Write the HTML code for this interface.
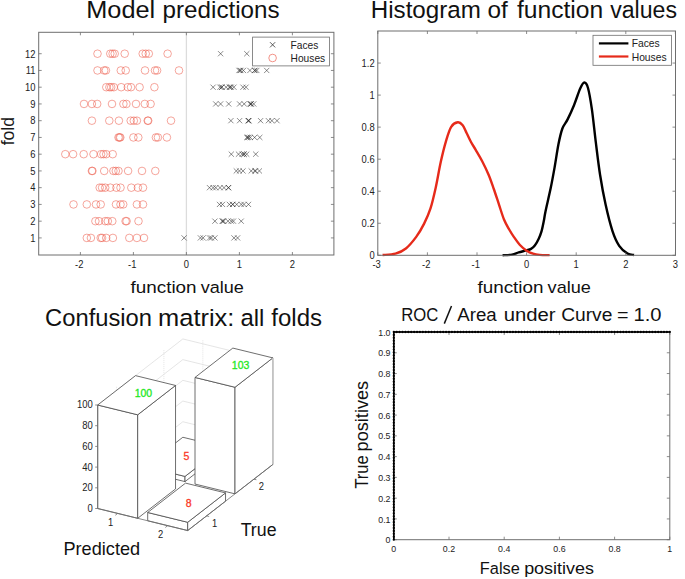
<!DOCTYPE html>
<html><head><meta charset="utf-8"><style>
html,body{margin:0;padding:0;background:#fff;}
svg{display:block;}
text{font-family:"Liberation Sans", sans-serif;fill:#222;}
</style></head><body>
<svg width="685" height="579" viewBox="0 0 685 579">
<rect width="685" height="579" fill="#fff"/>
<line x1="186.4" y1="32.3" x2="186.4" y2="255" stroke="#dcdcdc" stroke-width="1.3"/>
<g fill="none" stroke="#ec5a48" stroke-width="0.9" stroke-opacity="0.6">
<circle cx="97.5" cy="53.71" r="3.8"/>
<circle cx="110.3" cy="53.71" r="3.8"/>
<circle cx="112.6" cy="53.71" r="3.8"/>
<circle cx="114.7" cy="53.71" r="3.8"/>
<circle cx="124.7" cy="53.71" r="3.8"/>
<circle cx="142.7" cy="53.71" r="3.8"/>
<circle cx="145.7" cy="53.71" r="3.8"/>
<circle cx="148.8" cy="53.71" r="3.8"/>
<circle cx="167.6" cy="53.71" r="3.8"/>
<circle cx="97.5" cy="70.45" r="3.8"/>
<circle cx="104.2" cy="70.45" r="3.8"/>
<circle cx="105.9" cy="70.45" r="3.8"/>
<circle cx="120.8" cy="70.45" r="3.8"/>
<circle cx="125.7" cy="70.45" r="3.8"/>
<circle cx="145" cy="70.45" r="3.8"/>
<circle cx="155" cy="70.45" r="3.8"/>
<circle cx="157.1" cy="70.45" r="3.8"/>
<circle cx="179" cy="70.45" r="3.8"/>
<circle cx="106.3" cy="87.2" r="3.8"/>
<circle cx="109.4" cy="87.2" r="3.8"/>
<circle cx="111.2" cy="87.2" r="3.8"/>
<circle cx="113.8" cy="87.2" r="3.8"/>
<circle cx="121.2" cy="87.2" r="3.8"/>
<circle cx="127.8" cy="87.2" r="3.8"/>
<circle cx="131" cy="87.2" r="3.8"/>
<circle cx="139.6" cy="87.2" r="3.8"/>
<circle cx="154.4" cy="87.2" r="3.8"/>
<circle cx="84" cy="103.94" r="3.8"/>
<circle cx="91.9" cy="103.94" r="3.8"/>
<circle cx="97.2" cy="103.94" r="3.8"/>
<circle cx="112" cy="103.94" r="3.8"/>
<circle cx="123.4" cy="103.94" r="3.8"/>
<circle cx="126.4" cy="103.94" r="3.8"/>
<circle cx="136" cy="103.94" r="3.8"/>
<circle cx="144.8" cy="103.94" r="3.8"/>
<circle cx="150.6" cy="103.94" r="3.8"/>
<circle cx="91.9" cy="120.69" r="3.8"/>
<circle cx="109.3" cy="120.69" r="3.8"/>
<circle cx="118.9" cy="120.69" r="3.8"/>
<circle cx="130.7" cy="120.69" r="3.8"/>
<circle cx="133.8" cy="120.69" r="3.8"/>
<circle cx="136.9" cy="120.69" r="3.8"/>
<circle cx="147.7" cy="120.69" r="3.8"/>
<circle cx="148.2" cy="120.69" r="3.8"/>
<circle cx="171" cy="120.69" r="3.8"/>
<circle cx="118.5" cy="137.44" r="3.8"/>
<circle cx="119.5" cy="137.44" r="3.8"/>
<circle cx="120.3" cy="137.44" r="3.8"/>
<circle cx="133.4" cy="137.44" r="3.8"/>
<circle cx="138.3" cy="137.44" r="3.8"/>
<circle cx="155.9" cy="137.44" r="3.8"/>
<circle cx="157.9" cy="137.44" r="3.8"/>
<circle cx="166.9" cy="137.44" r="3.8"/>
<circle cx="65.3" cy="154.18" r="3.8"/>
<circle cx="73.1" cy="154.18" r="3.8"/>
<circle cx="83.7" cy="154.18" r="3.8"/>
<circle cx="93.5" cy="154.18" r="3.8"/>
<circle cx="101.1" cy="154.18" r="3.8"/>
<circle cx="103.5" cy="154.18" r="3.8"/>
<circle cx="106.2" cy="154.18" r="3.8"/>
<circle cx="112.7" cy="154.18" r="3.8"/>
<circle cx="91.9" cy="170.93" r="3.8"/>
<circle cx="92.4" cy="170.93" r="3.8"/>
<circle cx="104.2" cy="170.93" r="3.8"/>
<circle cx="113.4" cy="170.93" r="3.8"/>
<circle cx="115.8" cy="170.93" r="3.8"/>
<circle cx="118.5" cy="170.93" r="3.8"/>
<circle cx="128.1" cy="170.93" r="3.8"/>
<circle cx="142" cy="170.93" r="3.8"/>
<circle cx="155.3" cy="170.93" r="3.8"/>
<circle cx="99.7" cy="187.67" r="3.8"/>
<circle cx="102.1" cy="187.67" r="3.8"/>
<circle cx="105.2" cy="187.67" r="3.8"/>
<circle cx="110.3" cy="187.67" r="3.8"/>
<circle cx="116.4" cy="187.67" r="3.8"/>
<circle cx="120.5" cy="187.67" r="3.8"/>
<circle cx="131.3" cy="187.67" r="3.8"/>
<circle cx="137.9" cy="187.67" r="3.8"/>
<circle cx="143" cy="187.67" r="3.8"/>
<circle cx="73.5" cy="204.42" r="3.8"/>
<circle cx="86.8" cy="204.42" r="3.8"/>
<circle cx="96" cy="204.42" r="3.8"/>
<circle cx="100.7" cy="204.42" r="3.8"/>
<circle cx="116" cy="204.42" r="3.8"/>
<circle cx="120.5" cy="204.42" r="3.8"/>
<circle cx="123.2" cy="204.42" r="3.8"/>
<circle cx="136.9" cy="204.42" r="3.8"/>
<circle cx="143" cy="204.42" r="3.8"/>
<circle cx="95.4" cy="221.16" r="3.8"/>
<circle cx="99" cy="221.16" r="3.8"/>
<circle cx="105.2" cy="221.16" r="3.8"/>
<circle cx="107.8" cy="221.16" r="3.8"/>
<circle cx="112.3" cy="221.16" r="3.8"/>
<circle cx="125.6" cy="221.16" r="3.8"/>
<circle cx="126.6" cy="221.16" r="3.8"/>
<circle cx="138.5" cy="221.16" r="3.8"/>
<circle cx="86.8" cy="237.91" r="3.8"/>
<circle cx="90.9" cy="237.91" r="3.8"/>
<circle cx="100.7" cy="237.91" r="3.8"/>
<circle cx="102.1" cy="237.91" r="3.8"/>
<circle cx="106.2" cy="237.91" r="3.8"/>
<circle cx="112.9" cy="237.91" r="3.8"/>
<circle cx="129.3" cy="237.91" r="3.8"/>
<circle cx="136.9" cy="237.91" r="3.8"/>
<circle cx="144" cy="237.91" r="3.8"/>
</g>
<g fill="none" stroke="#222" stroke-width="0.85" stroke-opacity="0.62">
<path d="M218,51.11L223.2,56.31M218,56.31L223.2,51.11"/>
<path d="M244.2,51.11L249.4,56.31M244.2,56.31L249.4,51.11"/>
<path d="M259.4,51.11L264.6,56.31M259.4,56.31L264.6,51.11"/>
<path d="M267.4,51.11L272.6,56.31M267.4,56.31L272.6,51.11"/>
<path d="M282.4,51.11L287.6,56.31M282.4,56.31L287.6,51.11"/>
<path d="M236.4,67.85L241.6,73.05M236.4,73.05L241.6,67.85"/>
<path d="M237.4,67.85L242.6,73.05M237.4,73.05L242.6,67.85"/>
<path d="M238.2,67.85L243.4,73.05M238.2,73.05L243.4,67.85"/>
<path d="M240.8,67.85L246,73.05M240.8,73.05L246,67.85"/>
<path d="M247.3,67.85L252.5,73.05M247.3,73.05L252.5,67.85"/>
<path d="M252,67.85L257.2,73.05M252,73.05L257.2,67.85"/>
<path d="M252.4,67.85L257.6,73.05M252.4,73.05L257.6,67.85"/>
<path d="M254.2,67.85L259.4,73.05M254.2,73.05L259.4,67.85"/>
<path d="M264.1,67.85L269.3,73.05M264.1,73.05L269.3,67.85"/>
<path d="M210.5,84.6L215.7,89.8M210.5,89.8L215.7,84.6"/>
<path d="M217.4,84.6L222.6,89.8M217.4,89.8L222.6,84.6"/>
<path d="M219.2,84.6L224.4,89.8M219.2,89.8L224.4,84.6"/>
<path d="M219.2,84.6L224.4,89.8M219.2,89.8L224.4,84.6"/>
<path d="M223.5,84.6L228.7,89.8M223.5,89.8L228.7,84.6"/>
<path d="M226.9,84.6L232.1,89.8M226.9,89.8L232.1,84.6"/>
<path d="M227.4,84.6L232.6,89.8M227.4,89.8L232.6,84.6"/>
<path d="M228.7,84.6L233.9,89.8M228.7,89.8L233.9,84.6"/>
<path d="M231.3,84.6L236.5,89.8M231.3,89.8L236.5,84.6"/>
<path d="M240.4,84.6L245.6,89.8M240.4,89.8L245.6,84.6"/>
<path d="M243.4,84.6L248.6,89.8M243.4,89.8L248.6,84.6"/>
<path d="M213.1,101.34L218.3,106.54M213.1,106.54L218.3,101.34"/>
<path d="M218,101.34L223.2,106.54M218,106.54L223.2,101.34"/>
<path d="M226.1,101.34L231.3,106.54M226.1,106.54L231.3,101.34"/>
<path d="M237,101.34L242.2,106.54M237,106.54L242.2,101.34"/>
<path d="M241.6,101.34L246.8,106.54M241.6,106.54L246.8,101.34"/>
<path d="M247.3,101.34L252.5,106.54M247.3,106.54L252.5,101.34"/>
<path d="M248.5,101.34L253.7,106.54M248.5,106.54L253.7,101.34"/>
<path d="M248.5,101.34L253.7,106.54M248.5,106.54L253.7,101.34"/>
<path d="M251.1,101.34L256.3,106.54M251.1,106.54L256.3,101.34"/>
<path d="M228.3,118.09L233.5,123.29M228.3,123.29L233.5,118.09"/>
<path d="M237,118.09L242.2,123.29M237,123.29L242.2,118.09"/>
<path d="M245.6,118.09L250.8,123.29M245.6,123.29L250.8,118.09"/>
<path d="M246.3,118.09L251.5,123.29M246.3,123.29L251.5,118.09"/>
<path d="M245.9,118.09L251.1,123.29M245.9,123.29L251.1,118.09"/>
<path d="M258,118.09L263.2,123.29M258,123.29L263.2,118.09"/>
<path d="M265.8,118.09L271,123.29M265.8,123.29L271,118.09"/>
<path d="M269.3,118.09L274.5,123.29M269.3,123.29L274.5,118.09"/>
<path d="M274.4,118.09L279.6,123.29M274.4,123.29L279.6,118.09"/>
<path d="M244.2,134.84L249.4,140.03M244.2,140.03L249.4,134.84"/>
<path d="M244.9,134.84L250.1,140.03M244.9,140.03L250.1,134.84"/>
<path d="M246,134.84L251.2,140.03M246,140.03L251.2,134.84"/>
<path d="M247.7,134.84L252.9,140.03M247.7,140.03L252.9,134.84"/>
<path d="M252,134.84L257.2,140.03M252,140.03L257.2,134.84"/>
<path d="M257.2,134.84L262.4,140.03M257.2,140.03L262.4,134.84"/>
<path d="M228.7,151.58L233.9,156.78M228.7,156.78L233.9,151.58"/>
<path d="M235.9,151.58L241.1,156.78M235.9,156.78L241.1,151.58"/>
<path d="M239.5,151.58L244.7,156.78M239.5,156.78L244.7,151.58"/>
<path d="M241.4,151.58L246.6,156.78M241.4,156.78L246.6,151.58"/>
<path d="M241.4,151.58L246.6,156.78M241.4,156.78L246.6,151.58"/>
<path d="M244.1,151.58L249.3,156.78M244.1,156.78L249.3,151.58"/>
<path d="M253.1,151.58L258.3,156.78M253.1,156.78L258.3,151.58"/>
<path d="M233.7,168.33L238.9,173.53M233.7,173.53L238.9,168.33"/>
<path d="M236.8,168.33L242,173.53M236.8,173.53L242,168.33"/>
<path d="M240.4,168.33L245.6,173.53M240.4,173.53L245.6,168.33"/>
<path d="M248.6,168.33L253.8,173.53M248.6,173.53L253.8,168.33"/>
<path d="M252.2,168.33L257.4,173.53M252.2,173.53L257.4,168.33"/>
<path d="M252.9,168.33L258.1,173.53M252.9,173.53L258.1,168.33"/>
<path d="M256.8,168.33L262,173.53M256.8,173.53L262,168.33"/>
<path d="M206.9,185.07L212.1,190.27M206.9,190.27L212.1,185.07"/>
<path d="M210.5,185.07L215.7,190.27M210.5,190.27L215.7,185.07"/>
<path d="M213.2,185.07L218.4,190.27M213.2,190.27L218.4,185.07"/>
<path d="M217.4,185.07L222.6,190.27M217.4,190.27L222.6,185.07"/>
<path d="M221.4,185.07L226.6,190.27M221.4,190.27L226.6,185.07"/>
<path d="M225.9,185.07L231.1,190.27M225.9,190.27L231.1,185.07"/>
<path d="M225.9,185.07L231.1,190.27M225.9,190.27L231.1,185.07"/>
<path d="M216.9,201.82L222.1,207.02M216.9,207.02L222.1,201.82"/>
<path d="M219.9,201.82L225.1,207.02M219.9,207.02L225.1,201.82"/>
<path d="M226.8,201.82L232,207.02M226.8,207.02L232,201.82"/>
<path d="M230.1,201.82L235.3,207.02M230.1,207.02L235.3,201.82"/>
<path d="M230.1,201.82L235.3,207.02M230.1,207.02L235.3,201.82"/>
<path d="M234.1,201.82L239.3,207.02M234.1,207.02L239.3,201.82"/>
<path d="M238.6,201.82L243.8,207.02M238.6,207.02L243.8,201.82"/>
<path d="M241.4,201.82L246.6,207.02M241.4,207.02L246.6,201.82"/>
<path d="M245.9,201.82L251.1,207.02M245.9,207.02L251.1,201.82"/>
<path d="M212.3,218.56L217.5,223.76M212.3,223.76L217.5,218.56"/>
<path d="M219.9,218.56L225.1,223.76M219.9,223.76L225.1,218.56"/>
<path d="M219.9,218.56L225.1,223.76M219.9,223.76L225.1,218.56"/>
<path d="M221,218.56L226.2,223.76M221,223.76L226.2,218.56"/>
<path d="M225.4,218.56L230.6,223.76M225.4,223.76L230.6,218.56"/>
<path d="M228.7,218.56L233.9,223.76M228.7,223.76L233.9,218.56"/>
<path d="M230.8,218.56L236,223.76M230.8,223.76L236,218.56"/>
<path d="M238.6,218.56L243.8,223.76M238.6,223.76L243.8,218.56"/>
<path d="M181.5,235.31L186.7,240.5M181.5,240.5L186.7,235.31"/>
<path d="M197.8,235.31L203,240.5M197.8,240.5L203,235.31"/>
<path d="M200.5,235.31L205.7,240.5M200.5,240.5L205.7,235.31"/>
<path d="M206.9,235.31L212.1,240.5M206.9,240.5L212.1,235.31"/>
<path d="M208.7,235.31L213.9,240.5M208.7,240.5L213.9,235.31"/>
<path d="M212.3,235.31L217.5,240.5M212.3,240.5L217.5,235.31"/>
<path d="M231.4,235.31L236.6,240.5M231.4,240.5L236.6,235.31"/>
<path d="M235,235.31L240.2,240.5M235,240.5L240.2,235.31"/>
</g>
<rect x="38.7" y="32.3" width="295.2" height="222.7" fill="none" stroke="#6e6e6e" stroke-width="1"/>
<path d="M80.4,255v-3M80.4,32.3v3M133.4,255v-3M133.4,32.3v3M186.4,255v-3M186.4,32.3v3M239.4,255v-3M239.4,32.3v3M292.4,255v-3M292.4,32.3v3M38.7,237.91h3M333.9,237.91h-3M38.7,221.16h3M333.9,221.16h-3M38.7,204.42h3M333.9,204.42h-3M38.7,187.67h3M333.9,187.67h-3M38.7,170.93h3M333.9,170.93h-3M38.7,154.18h3M333.9,154.18h-3M38.7,137.44h3M333.9,137.44h-3M38.7,120.69h3M333.9,120.69h-3M38.7,103.94h3M333.9,103.94h-3M38.7,87.2h3M333.9,87.2h-3M38.7,70.45h3M333.9,70.45h-3M38.7,53.71h3M333.9,53.71h-3" stroke="#6e6e6e" stroke-width="0.8" fill="none"/>
<text transform="translate(79.2,267.9) scale(0.94,1)" text-anchor="middle" font-size="10" >-2</text>
<text transform="translate(132.2,267.9) scale(0.94,1)" text-anchor="middle" font-size="10" >-1</text>
<text transform="translate(186.4,267.9) scale(0.94,1)" text-anchor="middle" font-size="10" >0</text>
<text transform="translate(239.4,267.9) scale(0.94,1)" text-anchor="middle" font-size="10" >1</text>
<text transform="translate(292.4,267.9) scale(0.94,1)" text-anchor="middle" font-size="10" >2</text>
<text transform="translate(35.5,241.71) scale(0.94,1)" text-anchor="end" font-size="10" >1</text>
<text transform="translate(35.5,224.96) scale(0.94,1)" text-anchor="end" font-size="10" >2</text>
<text transform="translate(35.5,208.22) scale(0.94,1)" text-anchor="end" font-size="10" >3</text>
<text transform="translate(35.5,191.47) scale(0.94,1)" text-anchor="end" font-size="10" >4</text>
<text transform="translate(35.5,174.73) scale(0.94,1)" text-anchor="end" font-size="10" >5</text>
<text transform="translate(35.5,157.98) scale(0.94,1)" text-anchor="end" font-size="10" >6</text>
<text transform="translate(35.5,141.24) scale(0.94,1)" text-anchor="end" font-size="10" >7</text>
<text transform="translate(35.5,124.49) scale(0.94,1)" text-anchor="end" font-size="10" >8</text>
<text transform="translate(35.5,107.74) scale(0.94,1)" text-anchor="end" font-size="10" >9</text>
<text transform="translate(35.5,91) scale(0.94,1)" text-anchor="end" font-size="10" >10</text>
<text transform="translate(35.5,74.25) scale(0.94,1)" text-anchor="end" font-size="10" >11</text>
<text transform="translate(35.5,57.51) scale(0.94,1)" text-anchor="end" font-size="10" >12</text>
<rect x="252.6" y="37.1" width="76.8" height="28.8" fill="#fff" stroke="#6e6e6e" stroke-width="0.8"/>
<path d="M270,42.2L275.2,47.4M270,47.4L275.2,42.2" stroke="#333" stroke-width="0.8" fill="none"/>
<circle cx="272.6" cy="58" r="3.8" fill="none" stroke="#ec5a48" stroke-width="0.9" opacity="0.72"/>
<text transform="translate(290.6,48.6) scale(1.0,1)" text-anchor="start" font-size="10.2" >Faces</text>
<text transform="translate(290.6,61.7) scale(1.0,1)" text-anchor="start" font-size="10.2" >Houses</text>
<path d="M502.6,255.2C504.18,255.1 509.42,255.07 512.1,254.6C514.78,254.13 516.33,253.1 518.7,252.4C521.07,251.7 524.25,250.98 526.3,250.4C528.35,249.82 529.58,249.7 531,248.9C532.42,248.1 533.53,247.25 534.8,245.6C536.07,243.95 537.48,241.37 538.6,239C539.72,236.63 540.62,234.48 541.5,231.4C542.38,228.32 543.23,223.83 543.9,220.5C544.57,217.17 544.37,216.8 545.5,211.4C546.63,206 549.18,195.43 550.7,188.1C552.22,180.77 553.3,174.75 554.6,167.4C555.9,160.05 557.2,150.48 558.5,144C559.8,137.52 560.88,132.6 562.4,128.5C563.92,124.4 565.67,123.28 567.6,119.4C569.53,115.52 571.9,110.35 574,105.2C576.1,100.05 578.48,92.28 580.2,88.5C581.92,84.72 583,82.58 584.3,82.5C585.6,82.42 586.73,83.52 588,88C589.27,92.48 590.6,100.37 591.9,109.4C593.2,118.43 594.43,131.27 595.8,142.2C597.17,153.13 598.47,164.6 600.1,175C601.73,185.4 603.55,195.3 605.6,204.6C607.65,213.9 610.13,223.93 612.4,230.8C614.67,237.67 616.68,242.02 619.2,245.8C621.72,249.58 625.03,251.97 627.5,253.5C629.97,255.03 632.92,254.75 634,255" fill="none" stroke="#000" stroke-width="2.4" stroke-linejoin="round"/>
<path d="M382.6,255C384.75,254.78 391.62,254.78 395.5,253.7C399.38,252.62 402.45,251.3 405.9,248.5C409.35,245.7 413.18,241 416.2,236.9C419.22,232.8 421.62,228.65 424,223.9C426.38,219.15 428.55,214.43 430.5,208.4C432.45,202.37 433.98,195.47 435.7,187.7C437.42,179.93 439.08,169.57 440.8,161.8C442.52,154.03 444.27,146.93 446,141.1C447.73,135.27 449.23,129.93 451.2,126.8C453.17,123.67 455.88,122.55 457.8,122.3C459.72,122.05 461.23,123.52 462.7,125.3C464.17,127.08 465.22,130.22 466.6,133C467.98,135.78 469.48,139.2 471,142C472.52,144.8 473.83,146.6 475.7,149.8C477.57,153 480.03,157 482.2,161.2C484.37,165.4 486.77,170.37 488.7,175C490.63,179.63 492.08,184.07 493.8,189C495.52,193.93 497.3,199.52 499,204.6C500.7,209.68 502.3,215.35 504,219.5C505.7,223.65 507.53,226.57 509.2,229.5C510.87,232.43 512.25,234.57 514,237.1C515.75,239.63 517.65,242.48 519.7,244.7C521.75,246.92 524.08,248.9 526.3,250.4C528.52,251.9 530.78,252.95 533,253.7C535.22,254.45 536.83,254.67 539.6,254.9C542.37,255.13 547.93,255.07 549.6,255.1" fill="none" stroke="#e62a1a" stroke-width="2.4" stroke-linejoin="round"/>
<rect x="377.8" y="31" width="297.7" height="224.3" fill="none" stroke="#6e6e6e" stroke-width="1"/>
<path d="M377.8,255.3v-3M377.8,31v3M427.4,255.3v-3M427.4,31v3M477,255.3v-3M477,31v3M526.6,255.3v-3M526.6,31v3M576.2,255.3v-3M576.2,31v3M625.8,255.3v-3M625.8,31v3M675.4,255.3v-3M675.4,31v3M377.8,255.3h3M675.5,255.3h-3M377.8,223.26h3M675.5,223.26h-3M377.8,191.22h3M675.5,191.22h-3M377.8,159.18h3M675.5,159.18h-3M377.8,127.14h3M675.5,127.14h-3M377.8,95.1h3M675.5,95.1h-3M377.8,63.06h3M675.5,63.06h-3" stroke="#6e6e6e" stroke-width="0.8" fill="none"/>
<text transform="translate(376.6,268.2) scale(0.94,1)" text-anchor="middle" font-size="10" >-3</text>
<text transform="translate(426.2,268.2) scale(0.94,1)" text-anchor="middle" font-size="10" >-2</text>
<text transform="translate(475.8,268.2) scale(0.94,1)" text-anchor="middle" font-size="10" >-1</text>
<text transform="translate(526.6,268.2) scale(0.94,1)" text-anchor="middle" font-size="10" >0</text>
<text transform="translate(576.2,268.2) scale(0.94,1)" text-anchor="middle" font-size="10" >1</text>
<text transform="translate(625.8,268.2) scale(0.94,1)" text-anchor="middle" font-size="10" >2</text>
<text transform="translate(675.4,268.2) scale(0.94,1)" text-anchor="middle" font-size="10" >3</text>
<text transform="translate(374.6,259.1) scale(0.94,1)" text-anchor="end" font-size="10" >0</text>
<text transform="translate(374.6,227.06) scale(0.94,1)" text-anchor="end" font-size="10" >0.2</text>
<text transform="translate(374.6,195.02) scale(0.94,1)" text-anchor="end" font-size="10" >0.4</text>
<text transform="translate(374.6,162.98) scale(0.94,1)" text-anchor="end" font-size="10" >0.6</text>
<text transform="translate(374.6,130.94) scale(0.94,1)" text-anchor="end" font-size="10" >0.8</text>
<text transform="translate(374.6,98.9) scale(0.94,1)" text-anchor="end" font-size="10" >1</text>
<text transform="translate(374.6,66.86) scale(0.94,1)" text-anchor="end" font-size="10" >1.2</text>
<rect x="593" y="35.3" width="78.4" height="30" fill="#fff" stroke="#6e6e6e" stroke-width="0.8"/>
<line x1="598.9" y1="43.4" x2="628.4" y2="43.4" stroke="#000" stroke-width="2.2"/>
<line x1="598.9" y1="56.5" x2="628.4" y2="56.5" stroke="#e62a1a" stroke-width="2.2"/>
<text transform="translate(631.7,47.4) scale(1.0,1)" text-anchor="start" font-size="10.3" >Faces</text>
<text transform="translate(631.7,60.6) scale(1.0,1)" text-anchor="start" font-size="10.3" >Houses</text>
<line x1="97.7" y1="487.8" x2="182.84" y2="421.74" stroke="#dedede" stroke-width="0.8" />
<line x1="182.84" y1="421.74" x2="272.84" y2="443.79" stroke="#dedede" stroke-width="0.8" />
<line x1="97.7" y1="467.1" x2="182.84" y2="401.04" stroke="#dedede" stroke-width="0.8" />
<line x1="182.84" y1="401.04" x2="272.84" y2="423.09" stroke="#dedede" stroke-width="0.8" />
<line x1="97.7" y1="446.4" x2="182.84" y2="380.34" stroke="#dedede" stroke-width="0.8" />
<line x1="182.84" y1="380.34" x2="272.84" y2="402.39" stroke="#dedede" stroke-width="0.8" />
<line x1="97.7" y1="425.7" x2="182.84" y2="359.64" stroke="#dedede" stroke-width="0.8" />
<line x1="182.84" y1="359.64" x2="272.84" y2="381.69" stroke="#dedede" stroke-width="0.8" />
<line x1="97.7" y1="405" x2="182.84" y2="338.94" stroke="#dedede" stroke-width="0.8" />
<line x1="182.84" y1="338.94" x2="272.84" y2="360.99" stroke="#dedede" stroke-width="0.8" />
<line x1="116.62" y1="493.82" x2="116.62" y2="386.7" stroke="#dedede" stroke-width="0.8" stroke-dasharray="1,1"/>
<line x1="163.92" y1="457.12" x2="163.92" y2="350" stroke="#dedede" stroke-width="0.8" stroke-dasharray="1,1"/>
<line x1="202.84" y1="447.34" x2="202.84" y2="340.22" stroke="#dedede" stroke-width="0.8" stroke-dasharray="1,1"/>
<line x1="252.84" y1="459.59" x2="252.84" y2="352.47" stroke="#dedede" stroke-width="0.8" stroke-dasharray="1,1"/>
<line x1="117.7" y1="513.4" x2="202.84" y2="447.34" stroke="#dedede" stroke-width="0.8" stroke-dasharray="1,1"/>
<line x1="167.7" y1="525.65" x2="252.84" y2="459.59" stroke="#dedede" stroke-width="0.8" stroke-dasharray="1,1"/>
<line x1="116.62" y1="493.82" x2="206.62" y2="515.87" stroke="#dedede" stroke-width="0.8" stroke-dasharray="1,1"/>
<line x1="163.92" y1="457.12" x2="253.92" y2="479.17" stroke="#dedede" stroke-width="0.8" stroke-dasharray="1,1"/>
<line x1="272.84" y1="464.49" x2="272.84" y2="360.99" stroke="#dedede" stroke-width="0.8" />
<line x1="97.7" y1="508.5" x2="182.84" y2="442.44" stroke="#dedede" stroke-width="0.8" />
<line x1="182.84" y1="442.44" x2="272.84" y2="464.49" stroke="#dedede" stroke-width="0.8" />
<polygon points="145,471.8 185,481.6 185,476.42 145,466.62" fill="#fff" stroke="#4a4a4a" stroke-width="0.8" stroke-linejoin="round"/>
<polygon points="185,481.6 222.84,452.24 222.84,447.06 185,476.42" fill="#fff" stroke="#4a4a4a" stroke-width="0.8" stroke-linejoin="round"/>
<polygon points="145,466.62 185,476.42 222.84,447.06 182.84,437.26" fill="#fff" stroke="#4a4a4a" stroke-width="0.8" stroke-linejoin="round"/>
<polygon points="97.7,508.5 137.7,518.3 137.7,414.8 97.7,405" fill="#fff" stroke="#4a4a4a" stroke-width="0.8" stroke-linejoin="round"/>
<polygon points="137.7,518.3 175.54,488.94 175.54,385.44 137.7,414.8" fill="#fff" stroke="#4a4a4a" stroke-width="0.8" stroke-linejoin="round"/>
<polygon points="97.7,405 137.7,414.8 175.54,385.44 135.54,375.64" fill="#fff" stroke="#4a4a4a" stroke-width="0.8" stroke-linejoin="round"/>
<polygon points="195,484.05 235,493.85 235,387.25 195,377.45" fill="#fff" stroke="#4a4a4a" stroke-width="0.8" stroke-linejoin="round"/>
<polygon points="235,493.85 272.84,464.49 272.84,357.88 235,387.25" fill="#fff" stroke="#4a4a4a" stroke-width="0.8" stroke-linejoin="round"/>
<polygon points="195,377.45 235,387.25 272.84,357.88 232.84,348.09" fill="#fff" stroke="#4a4a4a" stroke-width="0.8" stroke-linejoin="round"/>
<polygon points="147.7,520.75 187.7,530.55 187.7,522.27 147.7,512.47" fill="#fff" stroke="#4a4a4a" stroke-width="0.8" stroke-linejoin="round"/>
<polygon points="187.7,530.55 225.54,501.19 225.54,492.91 187.7,522.27" fill="#fff" stroke="#4a4a4a" stroke-width="0.8" stroke-linejoin="round"/>
<polygon points="147.7,512.47 187.7,522.27 225.54,492.91 185.54,483.11" fill="#fff" stroke="#4a4a4a" stroke-width="0.8" stroke-linejoin="round"/>
<line x1="272.84" y1="464.49" x2="272.84" y2="357.88" stroke="#d4d4d4" stroke-width="1.1" />
<line x1="97.7" y1="508.5" x2="97.7" y2="405" stroke="#6e6e6e" stroke-width="0.8" />
<line x1="97.7" y1="508.5" x2="187.7" y2="530.55" stroke="#6e6e6e" stroke-width="0.8" />
<line x1="187.7" y1="530.55" x2="272.84" y2="464.49" stroke="#6e6e6e" stroke-width="0.8" />
<path d="M97.7,508.5h-2.5M97.7,487.8h-2.5M97.7,467.1h-2.5M97.7,446.4h-2.5M97.7,425.7h-2.5M97.7,405h-2.5M117.7,513.4l-2.36,1.84M167.7,525.65l-2.36,1.84M206.62,515.87l2.5,0.61M253.92,479.17l2.5,0.61" stroke="#6e6e6e" stroke-width="0.8" fill="none"/>
<text transform="translate(92.8,511.9) scale(0.95,1)" text-anchor="end" font-size="10" >0</text>
<text transform="translate(92.8,491.2) scale(0.95,1)" text-anchor="end" font-size="10" >20</text>
<text transform="translate(92.8,470.5) scale(0.95,1)" text-anchor="end" font-size="10" >40</text>
<text transform="translate(92.8,449.8) scale(0.95,1)" text-anchor="end" font-size="10" >60</text>
<text transform="translate(92.8,429.1) scale(0.95,1)" text-anchor="end" font-size="10" >80</text>
<text transform="translate(92.8,408.4) scale(0.95,1)" text-anchor="end" font-size="10" >100</text>
<text transform="translate(110.6,526.2) scale(0.94,1)" text-anchor="middle" font-size="10" >1</text>
<text transform="translate(160.6,538.4) scale(0.94,1)" text-anchor="middle" font-size="10" >2</text>
<text transform="translate(214.5,526.6) scale(0.94,1)" text-anchor="middle" font-size="10" >1</text>
<text transform="translate(261.4,489.8) scale(0.94,1)" text-anchor="middle" font-size="10" >2</text>
<text x="143.4" y="397" text-anchor="middle" font-size="10.5" style="fill:#1ee81e;stroke:#1ee81e;stroke-width:0.3">100</text>
<text x="240.6" y="369.3" text-anchor="middle" font-size="10.5" style="fill:#1ee81e;stroke:#1ee81e;stroke-width:0.3">103</text>
<text x="186.4" y="460" text-anchor="middle" font-size="10.5" style="fill:#fa3a28;stroke:#fa3a28;stroke-width:0.3">5</text>
<text x="188.7" y="507.2" text-anchor="middle" font-size="10.5" style="fill:#fa3a28;stroke:#fa3a28;stroke-width:0.3">8</text>
<rect x="393.8" y="332" width="276" height="207.7" fill="none" stroke="#6e6e6e" stroke-width="1"/>
<path d="M393.8,539.7v-3M393.8,332v3M449,539.7v-3M449,332v3M504.2,539.7v-3M504.2,332v3M559.4,539.7v-3M559.4,332v3M614.6,539.7v-3M614.6,332v3M669.8,539.7v-3M669.8,332v3M393.8,539.7h3M669.8,539.7h-3M393.8,518.93h3M669.8,518.93h-3M393.8,498.16h3M669.8,498.16h-3M393.8,477.39h3M669.8,477.39h-3M393.8,456.62h3M669.8,456.62h-3M393.8,435.85h3M669.8,435.85h-3M393.8,415.08h3M669.8,415.08h-3M393.8,394.31h3M669.8,394.31h-3M393.8,373.54h3M669.8,373.54h-3M393.8,352.77h3M669.8,352.77h-3M393.8,332h3M669.8,332h-3" stroke="#6e6e6e" stroke-width="0.8" fill="none"/>
<text transform="translate(393.8,552.1) scale(0.92,1)" text-anchor="middle" font-size="9.6" >0</text>
<text transform="translate(449,552.1) scale(0.92,1)" text-anchor="middle" font-size="9.6" >0.2</text>
<text transform="translate(504.2,552.1) scale(0.92,1)" text-anchor="middle" font-size="9.6" >0.4</text>
<text transform="translate(559.4,552.1) scale(0.92,1)" text-anchor="middle" font-size="9.6" >0.6</text>
<text transform="translate(614.6,552.1) scale(0.92,1)" text-anchor="middle" font-size="9.6" >0.8</text>
<text transform="translate(669.8,552.1) scale(0.92,1)" text-anchor="middle" font-size="9.6" >1</text>
<text transform="translate(390.5,543.3) scale(0.92,1)" text-anchor="end" font-size="9.6" >0</text>
<text transform="translate(390.5,522.53) scale(0.92,1)" text-anchor="end" font-size="9.6" >0.1</text>
<text transform="translate(390.5,501.76) scale(0.92,1)" text-anchor="end" font-size="9.6" >0.2</text>
<text transform="translate(390.5,480.99) scale(0.92,1)" text-anchor="end" font-size="9.6" >0.3</text>
<text transform="translate(390.5,460.22) scale(0.92,1)" text-anchor="end" font-size="9.6" >0.4</text>
<text transform="translate(390.5,439.45) scale(0.92,1)" text-anchor="end" font-size="9.6" >0.5</text>
<text transform="translate(390.5,418.68) scale(0.92,1)" text-anchor="end" font-size="9.6" >0.6</text>
<text transform="translate(390.5,397.91) scale(0.92,1)" text-anchor="end" font-size="9.6" >0.7</text>
<text transform="translate(390.5,377.14) scale(0.92,1)" text-anchor="end" font-size="9.6" >0.8</text>
<text transform="translate(390.5,356.37) scale(0.92,1)" text-anchor="end" font-size="9.6" >0.9</text>
<text transform="translate(390.5,335.6) scale(0.92,1)" text-anchor="end" font-size="9.6" >1.0</text>
<path d="M393.8,539.7V332H669.8" fill="none" stroke="#000" stroke-width="1.5"/>
<path d="M393.8,332h0M396.71,332h0M399.61,332h0M402.52,332h0M405.42,332h0M408.33,332h0M411.23,332h0M414.14,332h0M417.04,332h0M419.95,332h0M422.85,332h0M425.76,332h0M428.66,332h0M431.57,332h0M434.47,332h0M437.38,332h0M440.28,332h0M443.19,332h0M446.09,332h0M449,332h0M451.91,332h0M454.81,332h0M457.72,332h0M460.62,332h0M463.53,332h0M466.43,332h0M469.34,332h0M472.24,332h0M475.15,332h0M478.05,332h0M480.96,332h0M483.86,332h0M486.77,332h0M489.67,332h0M492.58,332h0M495.48,332h0M498.39,332h0M501.29,332h0M504.2,332h0M507.11,332h0M510.01,332h0M512.92,332h0M515.82,332h0M518.73,332h0M521.63,332h0M524.54,332h0M527.44,332h0M530.35,332h0M533.25,332h0M536.16,332h0M539.06,332h0M541.97,332h0M544.87,332h0M547.78,332h0M550.68,332h0M553.59,332h0M556.49,332h0M559.4,332h0M562.31,332h0M565.21,332h0M568.12,332h0M571.02,332h0M573.93,332h0M576.83,332h0M579.74,332h0M582.64,332h0M585.55,332h0M588.45,332h0M591.36,332h0M594.26,332h0M597.17,332h0M600.07,332h0M602.98,332h0M605.88,332h0M608.79,332h0M611.69,332h0M614.6,332h0M617.51,332h0M620.41,332h0M623.32,332h0M626.22,332h0M629.13,332h0M632.03,332h0M634.94,332h0M637.84,332h0M640.75,332h0M643.65,332h0M646.56,332h0M649.46,332h0M652.37,332h0M655.27,332h0M658.18,332h0M661.08,332h0M663.99,332h0M666.89,332h0M669.8,332h0M393.8,332h0M393.8,334.93h0M393.8,337.85h0M393.8,340.78h0M393.8,343.7h0M393.8,346.63h0M393.8,349.55h0M393.8,352.48h0M393.8,355.4h0M393.8,358.33h0M393.8,361.25h0M393.8,364.18h0M393.8,367.1h0M393.8,370.03h0M393.8,372.95h0M393.8,375.88h0M393.8,378.81h0M393.8,381.73h0M393.8,384.66h0M393.8,387.58h0M393.8,390.51h0M393.8,393.43h0M393.8,396.36h0M393.8,399.28h0M393.8,402.21h0M393.8,405.13h0M393.8,408.06h0M393.8,410.98h0M393.8,413.91h0M393.8,416.84h0M393.8,419.76h0M393.8,422.69h0M393.8,425.61h0M393.8,428.54h0M393.8,431.46h0M393.8,434.39h0M393.8,437.31h0M393.8,440.24h0M393.8,443.16h0M393.8,446.09h0M393.8,449.01h0M393.8,451.94h0M393.8,454.86h0M393.8,457.79h0M393.8,460.72h0M393.8,463.64h0M393.8,466.57h0M393.8,469.49h0M393.8,472.42h0M393.8,475.34h0M393.8,478.27h0M393.8,481.19h0M393.8,484.12h0M393.8,487.04h0M393.8,489.97h0M393.8,492.89h0M393.8,495.82h0M393.8,498.75h0M393.8,501.67h0M393.8,504.6h0M393.8,507.52h0M393.8,510.45h0M393.8,513.37h0M393.8,516.3h0M393.8,519.22h0M393.8,522.15h0M393.8,525.07h0M393.8,528h0M393.8,530.92h0M393.8,533.85h0M393.8,536.77h0M393.8,539.7h0" stroke="#000" stroke-width="2.3" stroke-linecap="round" fill="none"/>
<text transform="translate(86.23,18.1) scale(1.0867,1)" font-size="23.3" style="fill:#111">Model</text>
<text transform="translate(162.56,18.1) scale(1.0396,1)" font-size="23.3" style="fill:#111">predictions</text>
<text transform="translate(370.74,18.1) scale(1.0288,1)" font-size="23.5" style="fill:#111">Histogram</text>
<text transform="translate(487.56,18.1) scale(1.0368,1)" font-size="23.5" style="fill:#111">of</text>
<text transform="translate(516.9,18.1) scale(1.0481,1)" font-size="23.5" style="fill:#111">function</text>
<text transform="translate(610.2,18.1) scale(0.9836,1)" font-size="23.5" style="fill:#111">values</text>
<text transform="translate(130.5,292.9) scale(1.0983,1)" font-size="17.2" style="fill:#111">function</text>
<text transform="translate(200.7,292.9) scale(1.0500,1)" font-size="17.2" style="fill:#111">value</text>
<text transform="translate(477.4,293.4) scale(1.0983,1)" font-size="17.2" style="fill:#111">function</text>
<text transform="translate(547.6,293.4) scale(1.0550,1)" font-size="17.2" style="fill:#111">value</text>
<text transform="translate(45.09,325.5) scale(1.0106,1)" font-size="23.5" style="fill:#111">Confusion</text>
<text transform="translate(158.12,325.5) scale(1.0824,1)" font-size="23.5" style="fill:#111">matrix:</text>
<text transform="translate(240.38,325.5) scale(1.0190,1)" font-size="23.5" style="fill:#111">all</text>
<text transform="translate(271.3,325.5) scale(1.0224,1)" font-size="23.5" style="fill:#111">folds</text>
<text transform="translate(401.31,320.8) scale(0.8925,1)" font-size="18.7" style="fill:#111">ROC</text>
<text transform="translate(457.3,320.8) scale(0.9975,1)" font-size="18.7" style="fill:#111">Area</text>
<text transform="translate(503.71,320.8) scale(1.0851,1)" font-size="18.7" style="fill:#111">under</text>
<text transform="translate(561.17,320.8) scale(1.0271,1)" font-size="18.7" style="fill:#111">Curve</text>
<text transform="translate(616.94,320.8) scale(1.0556,1)" font-size="18.7" style="fill:#111">=</text>
<text transform="translate(633.52,320.8) scale(1.0792,1)" font-size="18.7" style="fill:#111">1.0</text>
<text transform="translate(63.48,555.1) scale(1.0192,1)" font-size="17.8" style="fill:#111">Predicted</text>
<text transform="translate(240.7,535.8) scale(0.9595,1)" font-size="18.5" style="fill:#111">True</text>
<text transform="translate(479.83,574.2) scale(0.9725,1)" font-size="16.8" style="fill:#111">False</text>
<text transform="translate(524.13,574.2) scale(1.0687,1)" font-size="16.8" style="fill:#111">positives</text>
<text transform="translate(367.6,488.6) rotate(-90) scale(0.9167,1)" font-size="18" style="fill:#111">True</text>
<text transform="translate(367.6,451.41) rotate(-90) scale(1.0087,1)" font-size="18" style="fill:#111">positives</text>
<text transform="translate(14.1,145.3) rotate(-90) scale(0.9267,1)" font-size="19" style="fill:#1a1a1a">fold</text>
<line x1="444.3" y1="323.6" x2="451.5" y2="306" stroke="#111" stroke-width="1.5"/>
</svg>
</body></html>
